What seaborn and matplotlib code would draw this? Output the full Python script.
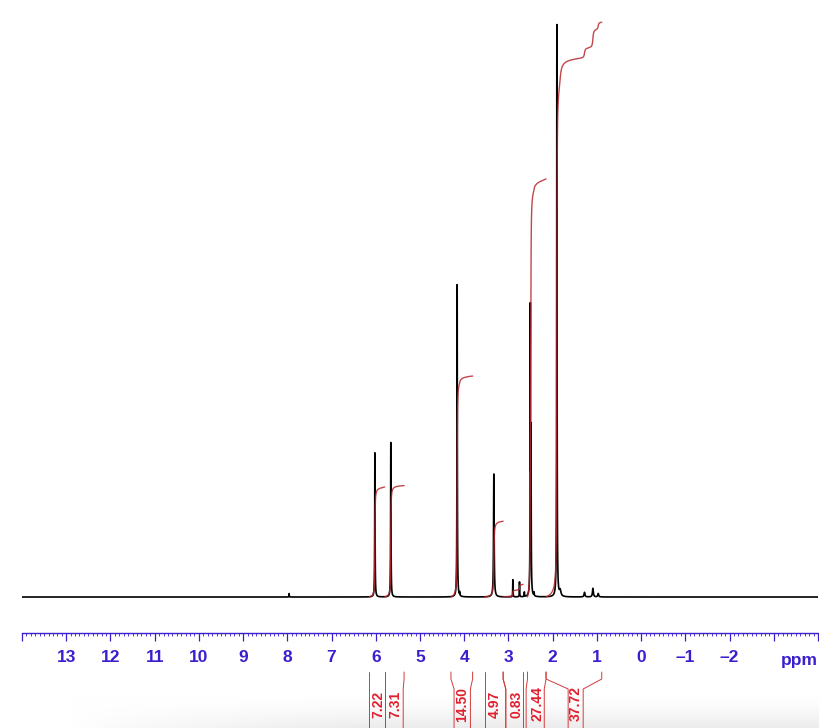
import numpy as np
import pandas as pd
import matplotlib
matplotlib.use("Agg")
import matplotlib.pyplot as plt
from matplotlib.ticker import MultipleLocator, FixedLocator, FixedFormatter
import seaborn as sns

# ---------------- data ----------------
peak_ppm = [7.96, 6.02, 5.66, 4.16, 4.10, 3.33, 2.90, 2.75, 2.64, 2.505, 2.49, 2.42,
            1.905, 1.83, 1.28, 1.09, 0.97]
peak_height = [0.6, 25.2, 27.0, 54.6, 0.6, 21.5, 3.0, 2.6, 0.8, 48.9, 25.5, 0.6,
               100.0, 1.0, 0.8, 1.5, 0.6]
peak_width = [0.004, 0.005, 0.005, 0.005, 0.004, 0.008, 0.004, 0.004, 0.004, 0.005, 0.005, 0.004,
              0.005, 0.02, 0.012, 0.012, 0.012]

integral_start = [6.15, 5.80, 4.30, 3.54, 3.12, 2.57, 2.15]
integral_end = [5.80, 5.36, 3.81, 3.12, 2.67, 2.15, 0.89]
integral_values = [7.22, 7.31, 14.50, 4.97, 0.83, 27.44, 37.72]
integral_labels = ["7.22", "7.31", "14.50", "4.97", "0.83", "27.44", "37.72"]
label_ppm = [5.94, 5.56, 4.04, 3.32, 2.81, 2.34, 1.49]
bracket_bottom_left = [6.15, 5.80, 4.23, 3.54, 3.06, 2.60, 1.65]
bracket_bottom_right = [5.80, 5.38, 3.86, 3.06, 2.67, 2.19, 1.31]

tick_values = [14, 13, 12, 11, 10, 9, 8, 7, 6, 5, 4, 3, 2, 1, 0, -1, -2, -3, -4]
tick_labels = ["", "13", "12", "11", "10", "9", "8", "7", "6", "5", "4", "3", "2", "1",
               "0", "\u20131", "\u20132", "", ""]
x_unit = "ppm"

# ---------------- layout constants (pixels) ----------------
W, H = 820, 728
BASE_PX = 597.0      # spectrum baseline
PX_PER_UNIT = 5.72   # pixels per intensity unit
INT_SCALE = 2.664    # intensity units per integral unit


def px2y(py):
    return (BASE_PX - py) / PX_PER_UNIT


BLUE = "#3a1fcf"
RED_INT = "#b8262c"
RED_LAB = "#e0202e"

sns.set_theme(style="white")
plt.rcParams["font.family"] = ["Liberation Sans", "DejaVu Sans"]
plt.rcParams["path.simplify"] = False

# spectrum
ppm = np.arange(14.0, -4.0, -0.0005)
inten = np.zeros_like(ppm)
for p, h, g in zip(peak_ppm, peak_height, peak_width):
    inten += h / (1.0 + ((ppm - p) / g) ** 2)
spec = pd.DataFrame({"ppm": ppm, "intensity": inten})

# integrals (cumulative area over each region, scaled to its value)
rows = []
for i, (a, b, v) in enumerate(zip(integral_start, integral_end, integral_values)):
    m = (ppm <= a) & (ppm >= b)
    c = np.cumsum(inten[m])
    c = c / c[-1] * v * INT_SCALE
    rows.append(pd.DataFrame({"ppm": ppm[m], "value": c, "region": i}))
integ = pd.concat(rows, ignore_index=True)

fig = plt.figure(figsize=(W / 100, H / 100), dpi=100)

# faint grey shading at the bottom of the page
bg = fig.add_axes([0, 0, 1, 1], zorder=-5)
yy, xx = np.mgrid[0:H, 0:W]
fy = np.clip((yy - 695) / 33.0, 0, 1) ** 1.5
fx = np.clip((xx - 70) / 300.0, 0, 1) ** 0.8
shade = 1 - 0.08 * fy * fx
bg.imshow(np.dstack([shade] * 3), aspect="auto", extent=[0, W, H, 0], vmin=0, vmax=1)
bg.set_xlim(0, W)
bg.set_ylim(H, 0)
bg.axis("off")

ax = fig.add_axes([22 / W, 0, 796 / W, 1])
ax.patch.set_alpha(0)
ax.set_xlim(14, -4)
ax.set_ylim(px2y(H), px2y(0))

sns.lineplot(data=spec, x="ppm", y="intensity", color="black", lw=1.2,
             estimator=None, sort=False, ax=ax, zorder=3)
sns.lineplot(data=integ, x="ppm", y="value", units="region", color=RED_INT, lw=1.0,
             alpha=0.85, estimator=None, sort=False, ax=ax, zorder=4, legend=False)

# integral brackets and labels below the scale
y0, y1, y2, y3 = px2y(672), px2y(679), px2y(689), px2y(H + 2)
for a, b, bl, br, lp, lab in zip(integral_start, integral_end, bracket_bottom_left,
                                 bracket_bottom_right, label_ppm, integral_labels):
    ax.plot([a, a, bl, bl], [y0, y1, y2, y3], color="#d43a3a", lw=0.7, clip_on=False, zorder=2)
    ax.plot([b, b, br, br], [y0, y1, y2, y3], color="#d43a3a", lw=0.7, clip_on=False, zorder=2)
    ax.text(lp, px2y(704), lab, rotation=90, ha="center", va="center",
            color=RED_LAB, fontsize=10, fontweight="bold")

# faint dotted vertical scale at the right edge
ax.plot([-4.02, -4.02], [px2y(30), px2y(597)], color="#e6d9a2", lw=0.9,
        ls=(0, (1, 3)), clip_on=False, zorder=1)

# ppm scale
for s in ["left", "right", "top"]:
    ax.spines[s].set_visible(False)
ax.spines["bottom"].set_position(("data", px2y(633)))
ax.spines["bottom"].set_color(BLUE)
ax.spines["bottom"].set_linewidth(1.0)
ax.xaxis.set_major_locator(FixedLocator(tick_values))
ax.xaxis.set_major_formatter(FixedFormatter(tick_labels))
ax.xaxis.set_minor_locator(MultipleLocator(0.1))
ax.tick_params(axis="x", which="major", direction="out", length=6, width=0.9,
               color=BLUE, labelcolor=BLUE, labelsize=12.5, pad=6.5, bottom=True)
ax.tick_params(axis="x", which="minor", direction="out", length=2.3, width=0.6,
               color=BLUE, bottom=True)
for t in ax.get_xticklabels():
    t.set_fontweight("bold")
ax.set_yticks([])
ax.set_xlabel("")
ax.set_ylabel("")
ax.text(-4.0, px2y(665), x_unit, ha="right", va="baseline", color=BLUE,
        fontsize=12.5, fontweight="bold")

fig.savefig("out.png", dpi=100)
